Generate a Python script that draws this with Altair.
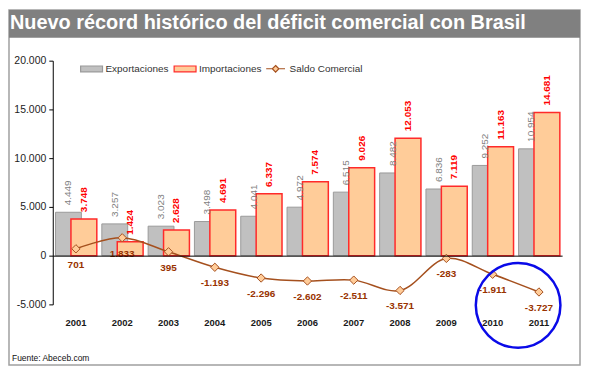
import altair as alt
import pandas as pd

# ---------------- data ----------------
years = ["2001", "2002", "2003", "2004", "2005", "2006", "2007", "2008", "2009", "2010", "2011"]
exportaciones = [4449, 3257, 3023, 3498, 4041, 4972, 6515, 8482, 6836, 9252, 10954]
importaciones = [3748, 1424, 2628, 4691, 6337, 7574, 9026, 12053, 7119, 11163, 14681]
saldo = [701, 1833, 395, -1193, -2296, -2602, -2511, -3571, -283, -1911, -3727]
series_names = ["Exportaciones", "Importaciones", "Saldo Comercial"]
y_ticks = [-5000, 0, 5000, 10000, 15000, 20000]
highlight_year = ["2010"]
highlight_value = [-5100]
title_text = "Nuevo récord histórico del déficit comercial con Brasil"
source_text = "Fuente: Abeceb.com"

df = pd.DataFrame({"year": years, "exp": exportaciones, "imp": importaciones, "saldo": saldo})
hl = pd.DataFrame({"year": highlight_year, "v": highlight_value})
deco = pd.DataFrame({"title": [title_text], "source": [source_text]})

# ---------------- layout ----------------
FONT = "Liberation Sans"
W, H = 574, 357
X_RANGE = [44, 556]
Y_RANGE = [296, 51]
ZERO_Y = 247

xaxis = alt.Axis(orient="bottom", offset=-(H - ZERO_Y), domain=True, domainColor="black",
                 domainWidth=1, ticks=False, labelPadding=62, labelAngle=0,
                 labelFont=FONT, labelFontSize=9.5, labelFontWeight="bold",
                 labelColor="#1a1a1a", grid=False, title=None, zindex=1)
yaxis = alt.Axis(values=y_ticks, format=",.0f", offset=-44, domainColor="black",
                 tickColor="black", tickSize=4, grid=False, labelFont=FONT,
                 labelFontSize=10.5, labelColor="#222222", labelPadding=3, title=None)
xscale = alt.Scale(type="band", domain=years, range=X_RANGE, paddingInner=0, paddingOuter=0)
yscale = alt.Scale(domain=[-5000, 20000], range=Y_RANGE, nice=False, zero=False)


def X():
    return alt.X("year:N", sort=years, scale=xscale, axis=xaxis, title=None)


def Y(field):
    return alt.Y(field + ":Q", scale=yscale, axis=yaxis, title=None)


fill_scale = alt.Scale(domain=series_names, range=["#C0C0C0", "#FFCC99", "#FFCC99"])
stroke_scale = alt.Scale(domain=series_names, range=["#9A9A9A", "#FF2A2A", "#A5501E"])
rect_path = "M-1,-0.27H1V0.27H-1Z"
line_path = "M-0.86,0H-0.3M0.3,0H0.86M0,-0.3L0.3,0L0,0.3L-0.3,0Z"
shape_scale = alt.Scale(domain=series_names, range=[rect_path, rect_path, line_path])

legend = alt.Legend(orient="none", legendX=71, legendY=47, direction="horizontal",
                    title=None, symbolSize=484, symbolStrokeWidth=1.2,
                    labelFont=FONT, labelFontSize=10, labelColor="#333333",
                    labelOffset=2, columnPadding=2, padding=0)

FILL = alt.Fill("serie:N", scale=fill_scale, legend=legend)
STROKE = alt.Stroke("serie:N", scale=stroke_scale, legend=legend)


def base(name):
    return alt.Chart(df).transform_calculate(serie="'" + name + "'")


# ---------------- layers ----------------
title_bar = alt.Chart(deco).mark_rect(color="#808080").encode(
    x=alt.value(0), x2=alt.value(W), y=alt.value(0), y2=alt.value(28))
title_txt = alt.Chart(deco).mark_text(align="left", baseline="middle", color="white",
                                      font=FONT, fontSize=20, fontWeight="bold").encode(
    x=alt.value(1), y=alt.value(13), text="title:N")
source_txt = alt.Chart(deco).mark_text(align="left", baseline="middle", color="#111111",
                                       font=FONT, fontSize=8.5).encode(
    x=alt.value(3), y=alt.value(350), text="source:N")

bars_exp = base("Exportaciones").mark_bar(width=26, xOffset=-7.5, strokeWidth=1).encode(
    x=X(), y=Y("exp"), fill=FILL, stroke=STROKE)
bars_imp = base("Importaciones").mark_bar(width=26, xOffset=8, strokeWidth=1.5).encode(
    x=X(), y=Y("imp"), fill=FILL, stroke=STROKE)

line = base("Saldo Comercial").mark_line(interpolate="catmull-rom", strokeWidth=1.5).encode(
    x=X(), y=Y("saldo"), stroke=STROKE)
points = base("Saldo Comercial").mark_point(shape="diamond", filled=True, size=70,
                                            strokeWidth=1, opacity=1).encode(
    x=X(), y=Y("saldo"), fill=FILL, stroke=STROKE)

# legend-shape helper: draws no rows, only supplies the shape scale for the legend symbols
legend_shapes = base("Saldo Comercial").transform_filter("false").mark_point(filled=True).encode(
    x=X(), y=Y("saldo"),
    shape=alt.Shape("serie:N", scale=shape_scale, legend=legend))

txt_exp = alt.Chart(df).mark_text(angle=270, align="left", baseline="middle", dx=7,
                                  xOffset=-7.5, color="#7F7F7F", font=FONT,
                                  fontSize=10).encode(
    x=X(), y=Y("exp"), text=alt.Text("exp:Q", format=",.0f"))
txt_imp = alt.Chart(df).mark_text(angle=270, align="left", baseline="middle", dx=7,
                                  xOffset=8, color="#FF0000", font=FONT, fontSize=10,
                                  fontWeight="bold").encode(
    x=X(), y=Y("imp"), text=alt.Text("imp:Q", format=",.0f"))
txt_saldo = alt.Chart(df).mark_text(align="center", baseline="middle", dy=16,
                                    color="#993300", font=FONT, fontSize=10,
                                    fontWeight="bold").encode(
    x=X(), y=Y("saldo"), text=alt.Text("saldo:Q", format=",.0f"))

circle = alt.Chart(hl).mark_point(shape="circle", filled=False, size=7238,
                                  stroke="#0A0AE8", strokeWidth=2.5, opacity=1,
                                  xOffset=25.6).encode(
    x=X(), y=Y("v"))

locale = {"number": {"decimal": ",", "thousands": ".", "grouping": [3],
                     "currency": ["", "\u00a0€"], "minus": "-"}}

chart = alt.layer(
    title_bar, title_txt, bars_exp, bars_imp, line, points, legend_shapes,
    txt_exp, txt_imp, txt_saldo, circle, source_txt
).properties(
    width=W, height=H,
    autosize=alt.AutoSizeParams(type="none"),
    padding={"left": 1, "top": 1, "right": 2, "bottom": 2},
    background="white",
).configure(
    locale=locale,
    view=alt.ViewConfig(stroke="#A0A0A0", strokeWidth=1.5),
)

chart.save("out.html", embed_options={"renderer": "svg", "actions": False})
